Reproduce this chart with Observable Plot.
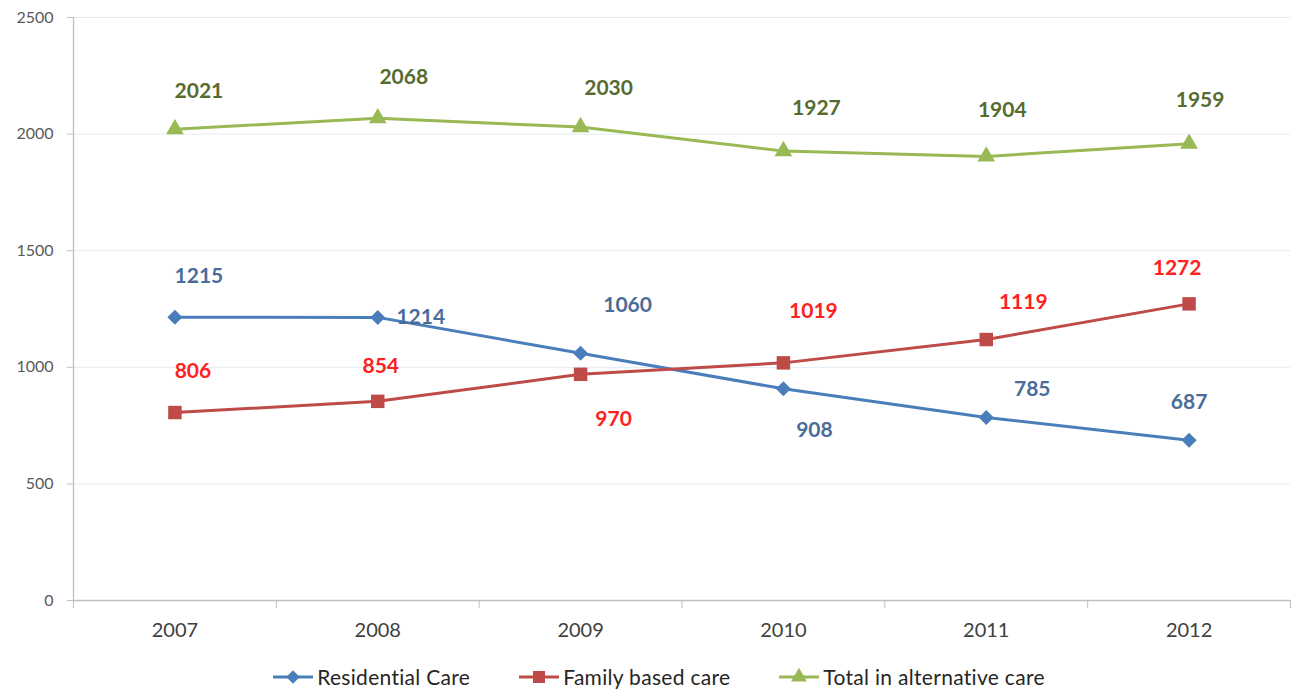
<!DOCTYPE html>
<html>
<head>
<meta charset="utf-8">
<script src="https://cdn.jsdelivr.net/npm/d3@7"></script>
<script src="https://cdn.jsdelivr.net/npm/@observablehq/plot@0.6"></script>
<style>
  html, body { margin: 0; padding: 0; background: #fff; }
  #chart { width: 1297px; }
  .legend { display: flex; justify-content: center; align-items: center; height: 39px; padding-top: 15px; padding-left: 20px; box-sizing: border-box;
            font-family: Lato, "Open Sans", sans-serif; font-size: 21px; letter-spacing: 0.3px; color: #262626; line-height: 24px; }
  .legend .item { display: flex; align-items: center; margin: 0 24px; }
  .legend svg { margin-right: 3px; }
</style>
</head>
<body>
<div id="chart"></div>
<script>
// ---- data ----
const years = [2007, 2008, 2009, 2010, 2011, 2012];
const residential = [1215, 1214, 1060, 908, 785, 687];
const family = [806, 854, 970, 1019, 1119, 1272];
const total = [2021, 2068, 2030, 1927, 1904, 1959];
const seriesNames = ["Residential Care", "Family based care", "Total in alternative care"];
const yTicks = [0, 500, 1000, 1500, 2000, 2500];

// label nudges in pixels [dx, dy] (manual placements as in the original)
const residentialNudge = [[24, -41], [43, 0], [47, -48], [31, 42], [46, -28], [0, -38]];
const familyNudge = [[18, -41], [3, -35], [33, 45], [30, -52], [37, -37], [-12, -36]];
const totalNudge = [[24, -38], [26, -41], [28, -39], [33, -43], [16, -46], [11, -43]];

const series = [
  {name: seriesNames[0], values: residential, nudge: residentialNudge, line: "#4A7EBB", label: "#4A6C9B", symbol: "square", rotate: 45, r: 6.0},
  {name: seriesNames[1], values: family, nudge: familyNudge, line: "#BE4B48", label: "#FF2020", symbol: "square", rotate: 0, r: 7.6},
  {name: seriesNames[2], values: total, nudge: totalNudge, line: "#98B954", label: "#566B2E", symbol: "triangle", rotate: 0, r: 6.6}
];

const boundaries = [2006.5, 2007.5, 2008.5, 2009.5, 2010.5, 2011.5, 2012.5];

const marks = [
  Plot.gridY(yTicks, {stroke: "#E4EBF4", strokeOpacity: 1, strokeWidth: 1}),
  Plot.ruleY([0], {stroke: "#BFBFBF", strokeWidth: 1.3}),
  Plot.ruleX([2006.5], {stroke: "#BFBFBF", strokeWidth: 1.3}),
  Plot.axisY(yTicks, {tickSize: 6, tickPadding: 14, fontSize: 16, tickFormat: d => String(d), stroke: "#BFBFBF", fill: "#595959", label: null}),
  Plot.axisX(boundaries, {tickSize: 8, tickFormat: () => "", stroke: "#BFBFBF", label: null}),
  Plot.axisX(years, {tickSize: 0, tickPadding: 22, fontSize: 20, tickFormat: d => String(d), fill: "#404040", label: null})
];

for (const s of series) {
  const data = years.map((yr, i) => ({year: yr, value: s.values[i]}));
  marks.push(Plot.line(data, {x: "year", y: "value", stroke: s.line, strokeWidth: 3}));
  marks.push(Plot.dot(data, {x: "year", y: "value", symbol: s.symbol, fill: s.line, stroke: "none", r: s.r, rotate: s.rotate}));
}
for (const s of series) {
  years.forEach((yr, i) => {
    marks.push(Plot.text([{year: yr, value: s.values[i]}], {
      x: "year", y: "value", text: d => String(d.value),
      dx: s.nudge[i][0], dy: s.nudge[i][1],
      fill: s.label, fontSize: 21, fontWeight: "bold"
    }));
  });
}

const chart = Plot.plot({
  width: 1297,
  height: 650,
  marginLeft: 73,
  marginRight: 7,
  marginTop: 17,
  marginBottom: 50,
  style: {fontFamily: "Lato, 'Open Sans', sans-serif", background: "#fff", overflow: "visible"},
  x: {type: "linear", domain: [2006.5, 2012.5]},
  y: {domain: [0, 2500]},
  marks
});
document.getElementById("chart").appendChild(chart);

// legend (HTML below the SVG)
const legend = document.createElement("div");
legend.className = "legend";
for (const s of series) {
  const item = document.createElement("div");
  item.className = "item";
  const sym = s.symbol === "triangle" ? d3.symbolTriangle : d3.symbolSquare;
  const size = Math.PI * s.r * s.r * 0.8;
  item.innerHTML = `<svg width="42" height="18"><line x1="1" x2="41" y1="9" y2="9" stroke="${s.line}" stroke-width="3"/>` +
    `<path transform="translate(21,9) rotate(${s.rotate})" d="${d3.symbol(sym, size)()}" fill="${s.line}"/></svg><span>${s.name}</span>`;
  legend.appendChild(item);
}
document.getElementById("chart").appendChild(legend);
</script>
</body>
</html>
